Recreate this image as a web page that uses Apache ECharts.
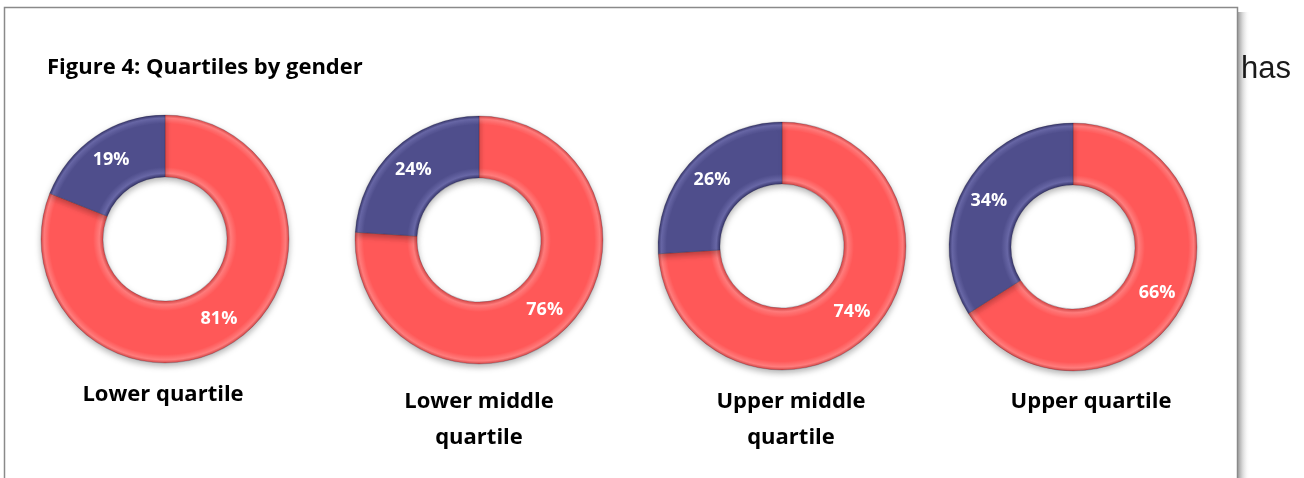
<!DOCTYPE html>
<html>
<head>
<meta charset="utf-8">
<title>Figure 4: Quartiles by gender</title>
<script src="https://cdn.jsdelivr.net/npm/echarts@6/dist/echarts.min.js"></script>
<style>
  html, body { margin: 0; padding: 0; background: #fff; }
  #chart { width: 1304px; height: 478px; }
</style>
</head>
<body>
<div id="chart"></div>
<script>
// data
const quartiles = ['Lower quartile', 'Lower middle\nquartile', 'Upper middle\nquartile', 'Upper quartile'];
const femaleShare = [81, 76, 74, 66];
const maleShare = [19, 24, 26, 34];
const groupNames = ['Female', 'Male'];

// layout of the four rings (pixels)
const ringCenters = [[165, 239], [479, 240], [782, 246], [1073, 247]];
const ringInner = 62;
const ringOuter = 124;
const captionX = [163, 479, 791, 1091];
const captionY = [395, 420, 420, 402];

const FONT = '"Open Sans", "DejaVu Sans", sans-serif';

// bevelled look: darker rims on both edges of the ring
function bevel(c, base, light, dark) {
  return {
    type: 'radial', x: c[0], y: c[1], r: ringOuter, global: true,
    colorStops: [
      { offset: 0, color: dark },
      { offset: ringInner / ringOuter, color: dark },
      { offset: ringInner / ringOuter + 0.03, color: light },
      { offset: ringInner / ringOuter + 0.08, color: base },
      { offset: 0.93, color: base },
      { offset: 0.975, color: light },
      { offset: 1, color: dark }
    ]
  };
}

const chart = echarts.init(document.getElementById('chart'), null, { renderer: 'canvas' });

const series = quartiles.map(function (q, i) {
  const c = ringCenters[i];
  return {
    type: 'pie',
    name: q.replace('\n', ' '),
    center: c,
    radius: [ringInner, ringOuter],
    startAngle: 90,
    clockwise: true,
    silent: true,
    avoidLabelOverlap: false,
    labelLine: { show: false },
    label: {
      show: true,
      position: 'inside',
      formatter: '{c}%',
      color: '#fff',
      fontFamily: FONT,
      fontWeight: 'bold',
      fontSize: 18
    },
    itemStyle: {
      borderColor: 'rgba(30,30,60,0.45)',
      borderWidth: 0.5,
      shadowBlur: 6,
      shadowOffsetY: 3,
      shadowColor: 'rgba(0,0,0,0.3)'
    },
    data: [
      { name: groupNames[0], value: femaleShare[i],
        itemStyle: { color: bevel(c, '#ff5858', '#ff7c7c', '#d24545') } },
      { name: groupNames[1], value: maleShare[i],
        itemStyle: { color: bevel(c, '#4f4e8c', '#6867a6', '#36356a') } }
    ]
  };
});

const graphics = [
  // frame of the embedded figure
  { type: 'rect', shape: { x: 1238, y: 12, width: 12, height: 480 },
    style: { fill: new echarts.graphic.LinearGradient(0, 0, 1, 0, [
      { offset: 0, color: '#9a9a9a' }, { offset: 1, color: 'rgba(255,255,255,0)' }]) } },
  { type: 'rect', shape: { x: 4.5, y: 7.5, width: 1233, height: 480 },
    style: { fill: '#fff', stroke: '#8a8a8a', lineWidth: 1.5 }, z: -1 },
  { type: 'text', x: 47, y: 68,
    style: { text: 'Figure 4: Quartiles by gender', font: 'bold 22px ' + FONT,
      fill: '#000', verticalAlign: 'middle' } },
  // stray word from the surrounding document
  { type: 'text', x: 1241, y: 69,
    style: { text: 'has', font: '31px "Liberation Sans", Arial, sans-serif',
      fill: '#1a1a1a', verticalAlign: 'middle' } }
];

quartiles.forEach(function (q, i) {
  graphics.push({
    type: 'text', x: captionX[i], y: captionY[i],
    style: { text: q, font: 'bold 22px ' + FONT, lineHeight: 36,
      fill: '#000', align: 'center', verticalAlign: 'middle' }
  });
});

chart.setOption({
  animation: false,
  series: series,
  graphic: graphics
});
</script>
</body>
</html>
